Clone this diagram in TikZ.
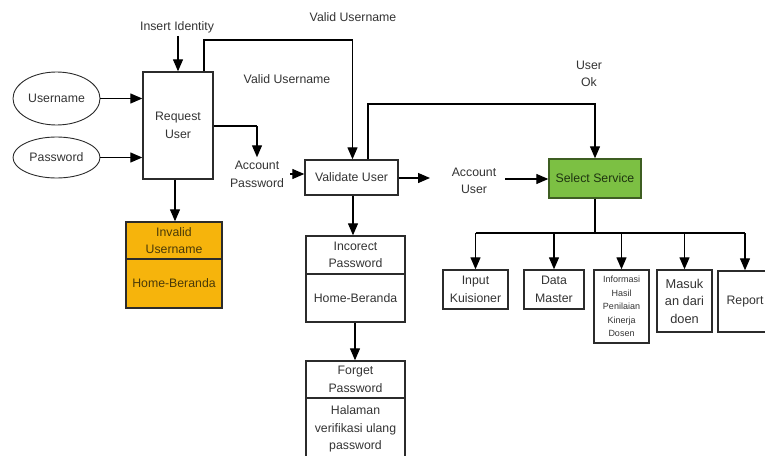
\documentclass[tikz,border=0pt]{standalone}
\usepackage{fontspec}
\setmainfont{Liberation Sans}
\usetikzlibrary{arrows.meta,shapes.geometric}

\definecolor{ink}{HTML}{333333}
\definecolor{edge}{HTML}{2B2B2B}
\definecolor{amber}{HTML}{F6B40C}
\definecolor{amberink}{HTML}{4A3A08}
\definecolor{leaf}{HTML}{7CC043}
\definecolor{leafedge}{HTML}{3E5E22}
\definecolor{leafink}{HTML}{1E3410}

\tikzset{
  lbl/.style={text=ink, font=\fontsize{12.3}{17.5}\selectfont, align=center, inner sep=0pt},
  oval/.style={ellipse, draw=edge, line width=0.9pt, text=ink,
               font=\fontsize{12.3}{17.5}\selectfont, inner sep=0pt},
  box/.style={rectangle, draw=edge, line width=1.4pt, text=ink, align=center,
              font=\fontsize{12.3}{17.5}\selectfont, inner sep=0pt},
  warnbox/.style={box, fill=amber, text=amberink},
  okbox/.style={box, fill=leaf, draw=leafedge, text=leafink},
  arr/.style={draw=black, line width=1.3pt, -{Triangle[length=12pt,width=10pt]}},
  wire/.style={draw=black, line width=1.3pt}
}

\begin{document}
\begin{tikzpicture}[x=1pt,y=-1pt]
\useasboundingbox (0,0) rectangle (765,455);
\clip (0,0) rectangle (765,455);

% inputs
\node[oval, minimum width=87pt, minimum height=53pt] (user) at (56.5,98.5) {Username};
\node[oval, minimum width=87pt, minimum height=41pt] (pass) at (56.5,157.5) {Password};

% request step
\node[box, minimum width=70pt, minimum height=107pt] (req) at (178,125.5) {Request\\User};
\node[lbl] (ident) at (177,27) {Insert Identity};
\node[lbl] (vutop) at (353,17) {Valid Username};
\node[lbl] (vumid) at (287,79) {Valid Username};
\node[lbl] (accpw) at (257,174.5) {Account\\Password};

% invalid username
\node[warnbox, minimum width=96pt, minimum height=37pt] (invtop) at (174,240.5) {Invalid\\Username};
\node[warnbox, minimum width=96pt, minimum height=49pt] (invbot) at (174,283.5) {Home-Beranda};

% validate step
\node[box, minimum width=93pt, minimum height=35pt] (val) at (351.5,177.5) {Validate User};
\node[box, minimum width=99pt, minimum height=38pt] (incotop) at (355.5,255) {Incorect\\Password};
\node[box, minimum width=99pt, minimum height=48pt] (incobot) at (355.5,298) {Home-Beranda};
\node[box, minimum width=99pt, minimum height=37pt] (fgtop) at (355.5,379.5) {Forget\\Password};
\node[box, minimum width=99pt, minimum height=62pt] (fgbot) at (355.5,429) {Halaman\\verifikasi ulang\\password};

% service selection
\node[lbl] (userok) at (589,74) {User\\Ok};
\node[lbl] (accus) at (474,181) {Account\\User};
\node[okbox, minimum width=92pt, minimum height=39pt] (sel) at (595,178.5) {Select Service};

% services
\node[box, minimum width=65pt, minimum height=39pt] (s1) at (475.5,289.5) {Input\\Kuisioner};
\node[box, minimum width=60pt, minimum height=39pt] (s2) at (554,289.5) {Data\\Master};
\node[box, minimum width=55pt, minimum height=73pt,
      font=\fontsize{9}{13.5}\selectfont] (s3) at (621.5,306.5)
      {Informasi\\Hasil\\Penilaian\\Kinerja\\Dosen};
\node[box, minimum width=55pt, minimum height=62pt,
      font=\fontsize{12.8}{17.5}\selectfont] (s4) at (684.5,301) {Masuk\\an dari\\doen};
\node[box, minimum width=54pt, minimum height=61pt] (s5) at (745,301.5) {Report};

% bend points and free ends
\coordinate (loopA) at (204,40);
\coordinate (loopB) at (368,104);
\coordinate (reqout) at (257,126);
\coordinate (apstart) at (290,174);
\coordinate (valout) at (430,178);
\coordinate (austart) at (505,179);
\coordinate (bus) at (595,233);

% connectors
\draw[arr] (user.east) -- (user.east -| req.west);
\draw[arr] (pass.east) -- (pass.east -| req.west);
\draw[arr] (ident.south) ++(1,3) -- (req.north);
\draw[arr] (loopA |- req.north) -- (loopA) -| ([xshift=1pt]val.north);
\draw[wire] (req.east |- reqout) -- (reqout);
\draw[arr] (reqout) -- ([yshift=4pt]accpw.north);
\draw[arr] (apstart) -- (apstart -| val.west);
\draw[arr] (req.south -| 175,0) -- (invtop.north -| 175,0);

\draw[arr] (val.south -| 353,0) -- (incotop.north -| 353,0);
\draw[arr] (incobot.south -| 355,0) -- (fgtop.north -| 355,0);
\draw[arr] (val.east |- valout) -- (valout);
\draw[arr] (austart) -- (austart -| sel.west);
\draw[arr] (loopB |- val.north) -- (loopB) -| (sel.north);

\draw[wire] (sel.south) -- (bus);
\draw[wire] (s1.north |- bus) -- (s5.north |- bus);
\foreach \s in {s1,s2,s3,s4,s5}
  \draw[arr] (\s.north |- bus) -- (\s.north);
\end{tikzpicture}
\end{document}
